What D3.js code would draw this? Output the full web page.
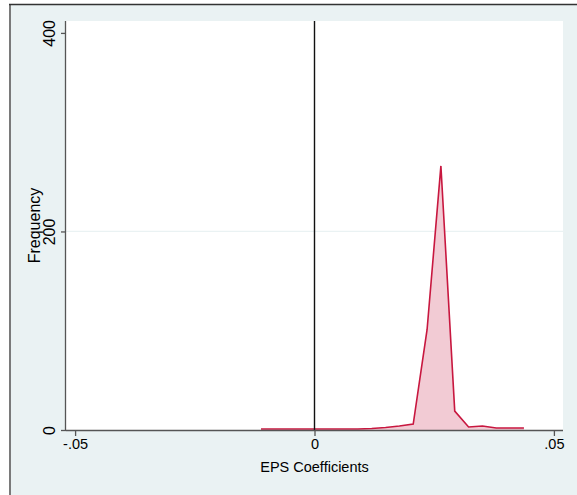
<!DOCTYPE html>
<html>
<head>
<meta charset="utf-8">
<script src="https://cdn.jsdelivr.net/npm/d3@7/dist/d3.min.js"></script>
<style>
  html, body { margin: 0; padding: 0; background: #ffffff; }
  svg { display: block; }
  text { font-family: "Liberation Sans", Arial, Helvetica, sans-serif; fill: #000; }
</style>
</head>
<body>
<svg id="chart" width="577" height="495"></svg>
<script>
// Frequency polygon of estimated EPS coefficients
const binMidpoints = [-0.01117, -0.00828, -0.00539, -0.0025, 0.00039, 0.00328, 0.00617,
  0.00906, 0.01195, 0.01484, 0.01773, 0.02062, 0.02351, 0.0264, 0.02929, 0.03218,
  0.03507, 0.03796, 0.04085, 0.04374];
const frequencies = [1, 1, 1, 1, 1, 1, 1, 1, 1.5, 2.5, 4, 6, 101, 266, 19, 3, 4, 2, 2, 2];
const xTicks = [-0.05, 0, 0.05];
const xTickLabels = ["-.05", "0", ".05"];
const yTicks = [0, 200, 400];
const yGridlines = [200];
const xLineAt = [0];

const svg = d3.select("#chart");
const W = 577, H = 495;
const plot = { left: 66, right: 563, top: 21, bottom: 430 };

// graph region
svg.append("rect").attr("x", 10).attr("y", 5).attr("width", W - 10).attr("height", H - 5)
  .attr("fill", "#eaf2f3");
svg.append("line").attr("x1", 10).attr("x2", 10).attr("y1", 4).attr("y2", H)
  .attr("stroke", "#7a7a7a").attr("stroke-width", 2);
svg.append("line").attr("x1", 9).attr("x2", W).attr("y1", 4.5).attr("y2", 4.5)
  .attr("stroke", "#333", "").attr("stroke-width", 1.6);

// plot region
svg.append("rect").attr("x", plot.left).attr("y", plot.top)
  .attr("width", plot.right - plot.left).attr("height", plot.bottom - plot.top)
  .attr("fill", "#ffffff");

const x = d3.scaleLinear().domain([-0.0519, 0.0519]).range([plot.left, plot.right]);
const y = d3.scaleLinear().domain([0, 412]).range([plot.bottom, plot.top]);

// gridlines
svg.append("g").selectAll("line").data(yGridlines).join("line")
  .attr("x1", plot.left).attr("x2", plot.right)
  .attr("y1", d => y(d)).attr("y2", d => y(d))
  .attr("stroke", "#eaf2f3").attr("stroke-width", 1.2);

// filled polygon
const pts = binMidpoints.map((v, i) => [v, frequencies[i]]);
const area = d3.area().x(d => x(d[0])).y0(y(0)).y1(d => y(d[1]));
const line = d3.line().x(d => x(d[0])).y(d => y(d[1]));
svg.append("path").datum(pts).attr("d", area).attr("fill", "#f2cbd4");
svg.append("path").datum(pts).attr("d", line).attr("fill", "none")
  .attr("stroke", "#c8173f").attr("stroke-width", 1.6).attr("stroke-linejoin", "miter");

// reference line at zero
svg.append("g").selectAll("line").data(xLineAt).join("line")
  .attr("x1", d => x(d)).attr("x2", d => x(d))
  .attr("y1", plot.top).attr("y2", plot.bottom)
  .attr("stroke", "#111").attr("stroke-width", 1.4);

// x axis
const xAxis = d3.axisBottom(x).tickValues(xTicks).tickSize(6).tickPadding(3)
  .tickFormat((d, i) => xTickLabels[i]);
const gx = svg.append("g").attr("transform", `translate(0,${plot.bottom})`).call(xAxis);
gx.select(".domain").attr("d", `M${plot.left},0.5H${plot.right}`).attr("stroke", "#555").attr("stroke-width", 1.3);
gx.selectAll(".tick line").attr("stroke", "#555").attr("stroke-width", 1.3);
gx.selectAll(".tick text").attr("font-size", 14.5).attr("font-family", "Liberation Sans, Arial, sans-serif").attr("fill", "#000");

// y axis
const yAxis = d3.axisLeft(y).tickValues(yTicks).tickSize(5).tickPadding(0).tickFormat(d3.format("d"));
const gy = svg.append("g").attr("transform", `translate(${plot.left},0)`).call(yAxis);
gy.select(".domain").attr("d", `M-0.5,${plot.top}V${plot.bottom}`).attr("stroke", "#555").attr("stroke-width", 1.3);
gy.selectAll(".tick line").attr("stroke", "#555").attr("stroke-width", 1.3);
gy.selectAll(".tick text")
  .attr("font-size", 16).attr("font-family", "Liberation Sans, Arial, sans-serif").attr("fill", "#000")
  .attr("x", null).attr("dy", null)
  .attr("text-anchor", "middle")
  .attr("transform", "translate(-11,0) rotate(-90)");

// axis titles
svg.append("text").attr("x", x(0)).attr("y", 472).attr("text-anchor", "middle")
  .attr("font-size", 14.5).text("EPS Coefficients");
svg.append("text").attr("transform", `translate(40,${(plot.top + plot.bottom) / 2}) rotate(-90)`)
  .attr("text-anchor", "middle").attr("font-size", 16).text("Frequency");
</script>
</body>
</html>
